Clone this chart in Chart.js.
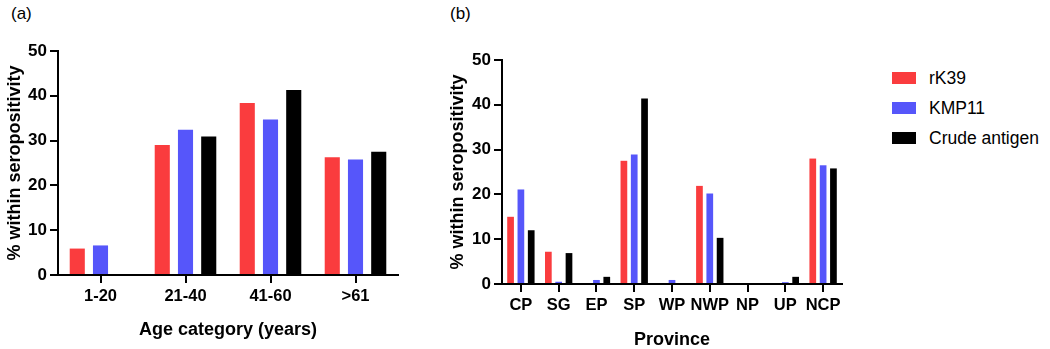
<!DOCTYPE html>
<html>
<head>
<meta charset="utf-8">
<script src="https://cdn.jsdelivr.net/npm/chart.js@4/dist/chart.umd.min.js"></script>
<style>
  body { margin: 0; background: #fff; width: 1050px; height: 349px; position: relative; overflow: hidden; }
  .box { position: absolute; top: 0; height: 349px; }
  .panel { position: absolute; top: 4px; font: 17px "Liberation Sans", Arial, sans-serif; color: #000; }
  #legend { position: absolute; left: 892px; top: 63px; font: 17.5px "Liberation Sans", Arial, sans-serif; }
  #legend div { height: 30px; display: flex; align-items: center; }
  #legend span.sw { display: inline-block; width: 24px; height: 12px; margin-right: 13px; }
</style>
</head>
<body>
<div class="panel" style="left:11px">(a)</div>
<div class="panel" style="left:450px">(b)</div>
<div class="box" style="left:0;width:420px"><canvas id="graficoEdad"></canvas></div>
<div class="box" style="left:420px;width:450px"><canvas id="graficoProvincia"></canvas></div>
<div id="legend"></div>
<script>
// Datos
const seriesNames = ['rK39', 'KMP11', 'Crude antigen'];
const seriesColors = ['#fa3c3e', '#5656fa', '#000000'];

const ageLabels = ['1-20', '21-40', '41-60', '>61'];
const ageRK39 = [5.9, 29.0, 38.4, 26.3];
const ageKMP11 = [6.6, 32.4, 34.7, 25.8];
const ageCrude = [0, 30.9, 41.3, 27.5];

const provLabels = ['CP', 'SG', 'EP', 'SP', 'WP', 'NWP', 'NP', 'UP', 'NCP'];
const provRK39 = [15.0, 7.2, 0, 27.5, 0, 21.9, 0, 0, 28.0];
const provKMP11 = [21.1, 0.5, 0.9, 28.9, 0.9, 20.2, 0, 0.4, 26.5];
const provCrude = [12.0, 6.9, 1.6, 41.4, 0, 10.3, 0, 1.6, 25.8];

const yTicks = [0, 10, 20, 30, 40, 50];

Chart.defaults.font.family = '"Liberation Sans", Arial, sans-serif';
Chart.defaults.color = '#000';

function makeDatasets(values) {
  return values.map((v, i) => ({
    label: seriesNames[i],
    data: v,
    backgroundColor: seriesColors[i],
    borderWidth: 0,
    categoryPercentage: 0.82,
    barPercentage: 0.65
  }));
}

function makeChart(id, labels, values, cfg) {
  const ctx = document.getElementById(id).getContext('2d');
  return new Chart(ctx, {
    type: 'bar',
    data: { labels: labels, datasets: makeDatasets(values) },
    options: {
      responsive: true,
      maintainAspectRatio: false,
      animation: false,
      layout: { padding: { left: 0, right: cfg.right, top: cfg.top, bottom: 0 } },
      plugins: { legend: { display: false }, tooltip: { enabled: false } },
      scales: {
        x: {
          grid: { display: true, drawOnChartArea: false, offset: false, color: '#000', lineWidth: 2, tickLength: 8 },
          border: { color: '#000', width: 2 },
          ticks: { font: { size: 16.5, weight: 'bold' }, padding: 4, maxRotation: 0, autoSkip: false },
          title: { display: true, text: cfg.xTitle, font: { size: 18, weight: 'bold', lineHeight: 1 }, padding: { top: 0, bottom: cfg.xTitlePad } },
          afterFit: s => { s.height = cfg.xHeight; }
        },
        y: {
          min: 0,
          max: 50,
          afterBuildTicks: s => { s.ticks = yTicks.map(v => ({ value: v })); },
          grid: { display: true, drawOnChartArea: false, color: '#000', lineWidth: 2, tickLength: 8 },
          border: { color: '#000', width: 2 },
          ticks: { font: { size: 17, weight: 'bold' }, padding: 3 },
          title: { display: true, text: '% within seropositivity', font: { size: 18, weight: 'bold', lineHeight: 1 }, padding: { top: cfg.yTitlePad, bottom: 0 } },
          afterFit: s => { s.width = cfg.yWidth; }
        }
      }
    }
  });
}

makeChart('graficoEdad', ageLabels, [ageRK39, ageKMP11, ageCrude], {
  right: 22, top: 51, yWidth: 58, xHeight: 74, xTitle: 'Age category (years)', xTitlePad: 10, yTitlePad: 6
});

makeChart('graficoProvincia', provLabels, [provRK39, provKMP11, provCrude], {
  right: 28, top: 60, yWidth: 82, xHeight: 65, xTitle: 'Province', xTitlePad: 0, yTitlePad: 29
});

// Leyenda
const leg = document.getElementById('legend');
seriesNames.forEach((n, i) => {
  const row = document.createElement('div');
  row.innerHTML = '<span class="sw" style="background:' + seriesColors[i] + '"></span>' + n;
  leg.appendChild(row);
});
</script>
</body>
</html>
